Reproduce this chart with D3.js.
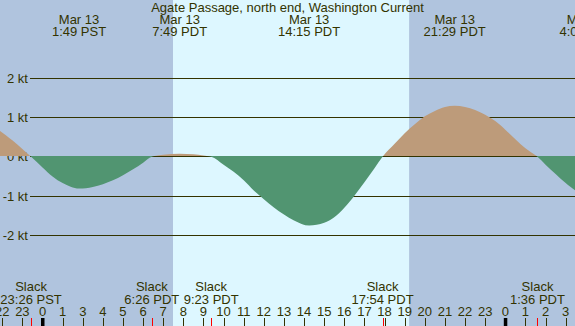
<!DOCTYPE html>
<html>
<head>
<meta charset="utf-8">
<script src="https://cdn.jsdelivr.net/npm/d3@7"></script>
<style>
html,body{margin:0;padding:0;background:#fff;}
svg{display:block;}
text{font-family:"Liberation Sans",Arial,sans-serif;font-size:13px;fill:#333300;}
</style>
</head>
<body>
<svg id="chart" width="575" height="326"></svg>
<script>
// ---- data (times are real elapsed hours since Mar 13 00:00 PST) ----
const title = "Agate Passage, north end, Washington Current";
const curveTimes  = [-2.3, -2.11, -1.5, -1.0, -0.567, 0.0, 0.5, 1.0, 1.4, 1.817, 2.5, 3.0, 3.5, 4.0, 4.5, 5.0, 5.433, 6.0, 6.817, 7.5, 8.0, 8.383, 9.0, 9.5, 10.0, 10.5, 11.0, 11.5, 12.0, 12.5, 13.25, 14.0, 14.5, 15.0, 15.5, 16.0, 16.5, 16.9, 17.5, 18.0, 18.5, 19.0, 19.5, 20.0, 20.483, 21.0, 21.5, 22.0, 22.5, 23.0, 23.5, 24.0, 24.6, 25.0, 25.5, 26.0, 26.5, 27.0];
const curveValues = [0.72, 0.66, 0.42, 0.2, 0, -0.27, -0.50, -0.67, -0.76, -0.81, -0.77, -0.70, -0.60, -0.47, -0.32, -0.15, 0, 0.05, 0.08, 0.065, 0.03, 0, -0.2, -0.38, -0.6, -0.86, -1.08, -1.29, -1.47, -1.62, -1.75, -1.68, -1.54, -1.30, -0.99, -0.65, -0.29, 0, 0.33, 0.60, 0.83, 1.03, 1.17, 1.27, 1.30, 1.27, 1.19, 1.07, 0.91, 0.69, 0.45, 0.22, 0, -0.2, -0.44, -0.67, -0.86, -0.95];
const slackTimes  = [-0.567, 5.433, 8.383, 16.9, 24.6];
const slackLabels = ["23:26 PST", "6:26 PDT", "9:23 PDT", "17:54 PDT", "1:36 PDT"];
const maxTimes    = [1.817, 6.817, 13.25, 20.483, 27.06];
const maxDates    = ["Mar 13", "Mar 13", "Mar 13", "Mar 13", "Mar 14"];
const maxLabels   = ["1:49 PST", "7:49 PDT", "14:15 PDT", "21:29 PDT", "4:04 PDT"];
const sunTimes    = [6.486, 18.22]; // sunrise, sunset
const tickTimes   = d3.range(-2, 27);
const tickLabels  = ["22","23","0","1","3","4","5","6","7","8","9","10","11","12","13","14","15","16","17","18","19","20","21","22","23","0","1","2","3"];
const midnightTimes = [0, 23];
const ktTicks     = [2, 1, 0, -1, -2];

// ---- layout ----
const W = 575, H = 326;
const svg = d3.select("#chart");
const x = d3.scaleLinear().domain([0, 23]).range([42.5, 505.3]);
const y = d3.scaleLinear().domain([-2, 2]).range([235.3, 78.3]);
const colNight = "#b0c4de", colDay = "#ddf7ff", colFlood = "#bd9b7a", colEbb = "#519571", ink = "#333300";

// background night/day
svg.append("rect").attr("x", 0).attr("y", 0).attr("width", W).attr("height", H).attr("fill", colNight);
svg.append("rect").attr("x", x(sunTimes[0])).attr("y", 0)
  .attr("width", x(sunTimes[1]) - x(sunTimes[0])).attr("height", H).attr("fill", colDay);

// grid lines
ktTicks.forEach(k => {
  const yy = Math.floor(y(k)) + 0.5;
  svg.append("line").attr("x1", 30).attr("x2", W).attr("y1", yy).attr("y2", yy)
    .attr("stroke", ink).attr("stroke-width", 1);
  svg.append("text").attr("x", 28).attr("y", yy + 4.5).attr("text-anchor", "end").text(k + " kt");
});

// current area
const data = curveTimes.map((t, i) => ({t: t, v: curveValues[i]}));
const zeroY = Math.floor(y(0));
const defs = svg.append("defs");
defs.append("clipPath").attr("id", "cpFlood").append("rect")
  .attr("x", 0).attr("y", 0).attr("width", W).attr("height", zeroY);
defs.append("clipPath").attr("id", "cpEbb").append("rect")
  .attr("x", 0).attr("y", zeroY).attr("width", W).attr("height", H - zeroY);
const area = d3.area().x(d => x(d.t)).y0(zeroY).y1(d => y(d.v)).curve(d3.curveMonotoneX);
svg.append("path").datum(data).attr("d", area).attr("fill", colFlood).attr("clip-path", "url(#cpFlood)");
svg.append("path").datum(data).attr("d", area).attr("fill", colEbb).attr("clip-path", "url(#cpEbb)");

// top labels: title and max current times
svg.append("text").attr("x", W / 2).attr("y", 12).attr("text-anchor", "middle").text(title);
maxTimes.forEach((t, i) => {
  svg.append("text").attr("x", x(t)).attr("y", 23.5).attr("text-anchor", "middle").text(maxDates[i]);
  svg.append("text").attr("x", x(t)).attr("y", 36).attr("text-anchor", "middle").text(maxLabels[i]);
});

// slack labels
slackTimes.forEach((t, i) => {
  svg.append("text").attr("x", x(t)).attr("y", 291).attr("text-anchor", "middle").text("Slack");
  svg.append("text").attr("x", x(t)).attr("y", 303.5).attr("text-anchor", "middle").text(slackLabels[i]);
});

// hour axis
tickTimes.forEach((t, i) => {
  const xx = Math.round(x(t)) + 0.5;
  svg.append("line").attr("x1", xx).attr("x2", xx).attr("y1", 318).attr("y2", H)
    .attr("stroke", ink).attr("stroke-width", 1);
  svg.append("text").attr("x", x(t)).attr("y", 315.5).attr("text-anchor", "middle").text(tickLabels[i]);
});
midnightTimes.forEach(t => {
  svg.append("rect").attr("x", x(t) - 1.5).attr("y", 318).attr("width", 3.5).attr("height", H - 318).attr("fill", "#000");
});
slackTimes.forEach(t => {
  const xx = Math.round(x(t)) + 0.5;
  svg.append("line").attr("x1", xx).attr("x2", xx).attr("y1", 318).attr("y2", H)
    .attr("stroke", "#ff0000").attr("stroke-width", 1);
});
</script>
</body>
</html>
